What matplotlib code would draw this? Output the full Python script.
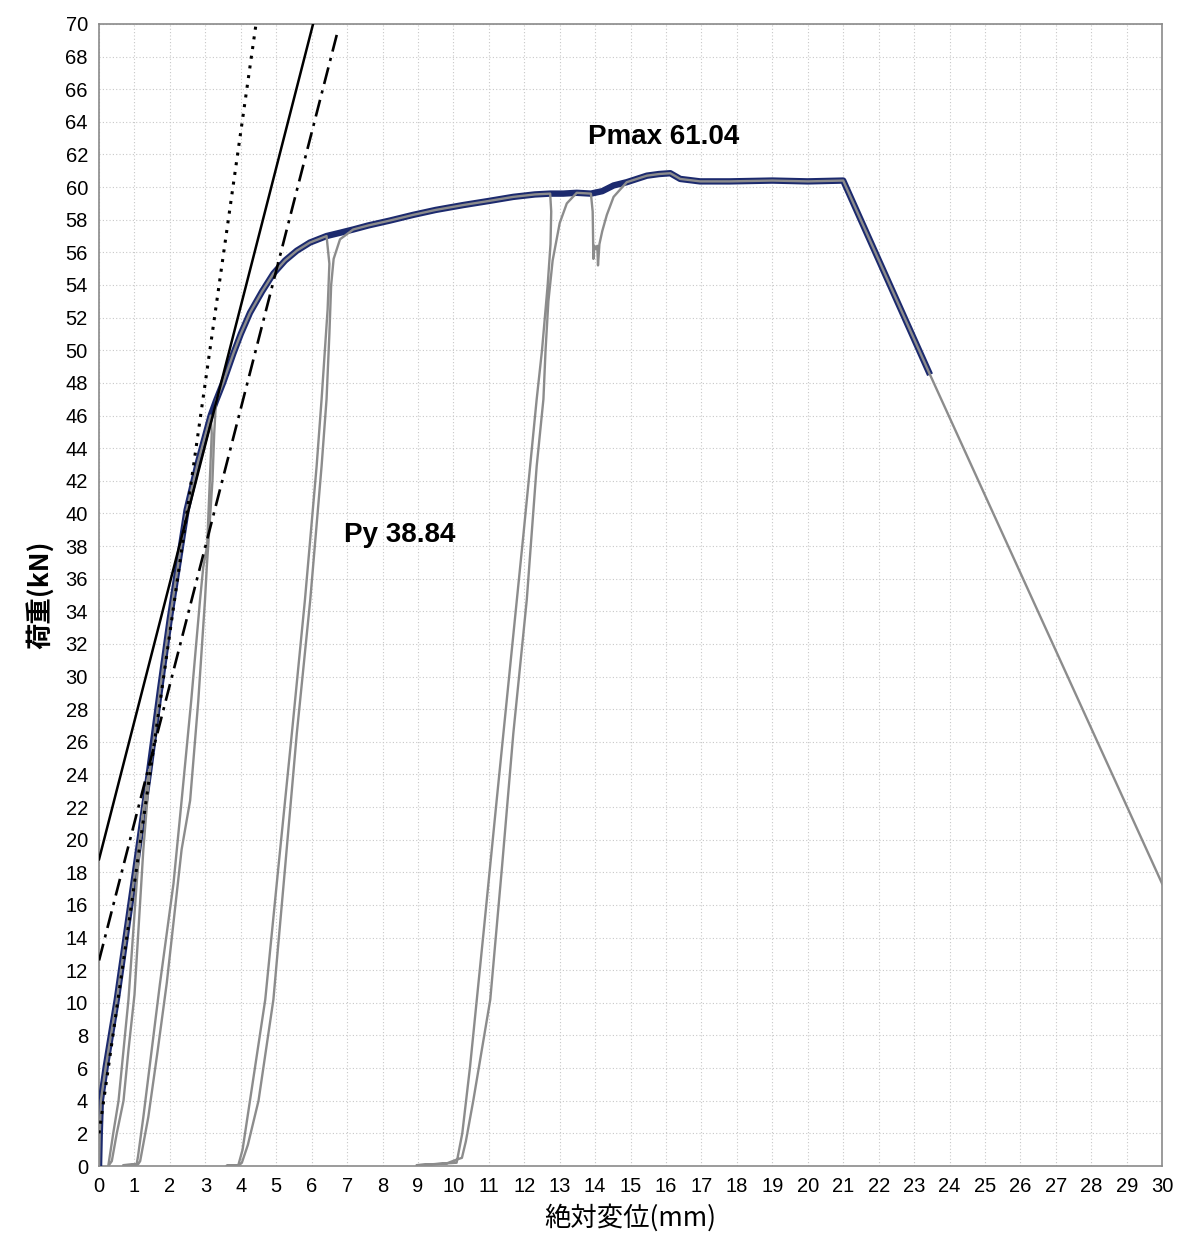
import numpy as np
import matplotlib.pyplot as plt

# envelope (skeleton) curve
env_x = [0, 0.02, 0.05, 0.19, 0.34, 0.5, 1.0, 1.42, 1.72, 2.0, 2.47, 2.8, 3.15, 3.3, 3.5, 3.79,
         4.0, 4.26, 4.6, 4.92, 5.25, 5.58, 5.95, 6.42, 6.8, 7.17, 7.6, 8.21, 8.87, 9.5, 10.28,
         11.0, 11.69, 12.3, 12.73, 13.1, 13.48, 13.88, 14.2, 14.52, 14.89, 15.46, 15.8, 16.12,
         16.4, 16.96, 17.8, 19.0, 20.0, 21.0, 23.45]
env_y = [0, 2.0, 4.0, 6.1, 8.1, 10.2, 17.8, 24.3, 29.2, 33.6, 40.2, 43.2, 46.0, 46.9, 48.0, 49.8,
         51.0, 52.3, 53.6, 54.7, 55.5, 56.1, 56.6, 57.0, 57.2, 57.4, 57.65, 57.95, 58.3, 58.6,
         58.9, 59.15, 59.4, 59.55, 59.6, 59.6, 59.65, 59.6, 59.75, 60.1, 60.3, 60.7, 60.8,
         60.85, 60.5, 60.35, 60.35, 60.4, 60.35, 60.4, 48.5]

# unloading / reloading loops of the raw record
unload_a_x = [1.42, 1.38, 1.2, 1.06, 0.83, 0.69, 0.55, 0.4, 0.3, 0.26]
unload_a_y = [24.3, 23.8, 21.0, 17.3, 10.2, 7.1, 4.0, 2.0, 0.6, 0]
reload_a_x = [0.26, 0.36, 0.5, 0.69, 0.83, 1.0, 1.25, 1.42, 1.72]
reload_a_y = [0, 0.3, 2.0, 4.0, 7.1, 10.5, 19.4, 24.0, 29.2]

unload_b_x = [3.15, 3.18, 3.05, 2.94, 2.85, 2.6, 2.33, 2.1, 1.72, 1.45, 1.25, 1.1, 1.06, 0.68]
unload_b_y = [46.0, 44.9, 38.0, 36.7, 34.7, 28.5, 22.4, 17.3, 11.2, 6.5, 3.0, 0.6, 0.1, 0.05]
reload_b_x = [0.68, 1.1, 1.16, 1.39, 1.65, 1.91, 2.33, 2.57, 2.8, 2.99, 3.04, 3.2, 3.25, 3.3]
reload_b_y = [0.05, 0.1, 0.3, 3.0, 7.0, 11.2, 19.4, 22.4, 28.5, 34.7, 36.7, 42.0, 44.9, 46.9]

unload_c_x = [6.42, 6.5, 6.45, 6.28, 6.14, 5.81, 5.44, 5.06, 4.69, 4.26, 4.05, 3.93, 3.6]
unload_c_y = [57.0, 55.3, 52.5, 47.0, 42.9, 34.7, 26.5, 18.3, 10.2, 4.0, 1.0, 0.05, 0.02]
reload_c_x = [3.6, 3.95, 4.03, 4.2, 4.5, 4.92, 5.25, 5.58, 5.96, 6.28, 6.42, 6.5, 6.55, 6.62,
              6.8, 7.17]
reload_c_y = [0.02, 0.05, 0.2, 1.3, 4.0, 10.2, 18.3, 26.5, 34.7, 42.9, 47.0, 51.0, 54.0, 55.6,
              56.8, 57.4]

unload_d_x = [12.73, 12.76, 12.74, 12.66, 12.5, 12.35, 11.98, 11.6, 11.22, 10.85, 10.47, 10.25,
              10.09, 8.96]
unload_d_y = [59.6, 58.5, 56.5, 54.0, 50.0, 47.0, 38.8, 30.6, 22.4, 14.3, 6.1, 2.0, 0.2, 0.05]
reload_d_x = [8.96, 9.8, 10.1, 10.24, 10.35, 10.56, 11.04, 11.37, 11.69, 12.07, 12.35, 12.54,
              12.6, 12.68, 12.8, 13.0, 13.2, 13.48]
reload_d_y = [0.05, 0.15, 0.4, 0.5, 1.5, 4.0, 10.2, 18.3, 26.5, 34.7, 42.9, 47.0, 50.0, 53.0,
              55.5, 57.8, 59.0, 59.65]

dip_x = [13.88, 13.93, 13.95, 13.98, 14.02, 14.06, 14.08, 14.12, 14.2, 14.33, 14.52, 14.89]
dip_y = [59.6, 58.5, 55.6, 56.4, 56.2, 56.4, 55.2, 56.5, 57.3, 58.3, 59.4, 60.3]

tail_x = [23.45, 30.0]
tail_y = [48.5, 17.3]

# stiffness lines
init_x = [0, 4.43]
init_y = [2.0, 70]
tan_x = [0, 6.04]
tan_y = [18.8, 70]
par_x = [0, 6.74]
par_y = [12.6, 69.6]

pmax_label = "Pmax 61.04"
py_label = "Py 38.84"

plt.rcParams['font.family'] = ['Liberation Sans', 'DejaVu Sans']

env_x = np.array(env_x)
env_y = np.array(env_y)


def env_part(lo, hi):
    m = (env_x >= lo) & (env_x <= hi)
    return list(env_x[m]), list(env_y[m])


# assemble raw record: envelope pieces + loops
pieces = [
    env_part(0, 1.42), (unload_a_x, unload_a_y), (reload_a_x, reload_a_y),
    env_part(1.72, 3.15), (unload_b_x, unload_b_y), (reload_b_x, reload_b_y),
    env_part(3.3, 6.42), (unload_c_x, unload_c_y), (reload_c_x, reload_c_y),
    env_part(7.17, 12.73), (unload_d_x, unload_d_y), (reload_d_x, reload_d_y),
    env_part(13.48, 13.88), (dip_x, dip_y), env_part(14.89, 23.45),
    (tail_x, tail_y),
]
raw_x = np.concatenate([p[0] for p in pieces])
raw_y = np.concatenate([p[1] for p in pieces])

fig = plt.figure(figsize=(11.82, 12.6), dpi=100)
ax = fig.add_axes([0.0838, 0.0746, 0.8994, 0.9064])

ax.plot(env_x, env_y, color='#1c2a6e', lw=4.6, solid_capstyle='butt',
        solid_joinstyle='round', zorder=3)
ax.plot(raw_x, raw_y, color='#8c8c8c', lw=1.7, solid_joinstyle='round', zorder=4)

ax.plot(tan_x, tan_y, color='black', lw=1.8, zorder=5)
ax.plot(par_x, par_y, color='black', lw=1.9, linestyle=(0, (6.5, 2.5, 1.2, 2.5)), zorder=5)
ax.plot(init_x, init_y, color='black', lw=2.2, linestyle=(0, (1, 2.2)), zorder=5)

ax.text(13.8, 63.1, pmax_label, fontsize=20, fontweight='bold', va='center', ha='left')
ax.text(6.9, 38.7, py_label, fontsize=20, fontweight='bold', va='center', ha='left')

ax.set_xlim(0, 30)
ax.set_ylim(0, 70)
ax.set_xticks(np.arange(0, 31, 1))
ax.set_yticks(np.arange(0, 71, 2))
ax.tick_params(length=0, labelsize=14.5, pad=8)
ax.grid(True, color='#c8c8c8', linestyle=(0, (1, 2)), lw=0.8)
ax.set_axisbelow(True)
for s in ax.spines.values():
    s.set_color('#8a8a8a')
    s.set_linewidth(1.2)

ax.set_ylabel("荷重(kN)", fontsize=19, fontweight='bold',
              family=['Noto Sans CJK JP', 'DejaVu Sans'], labelpad=8)
ax.set_xlabel("絶対変位(mm)", fontsize=19, family=['Noto Sans CJK JP', 'DejaVu Sans'], labelpad=6)

fig.savefig("out.png", dpi=100)
